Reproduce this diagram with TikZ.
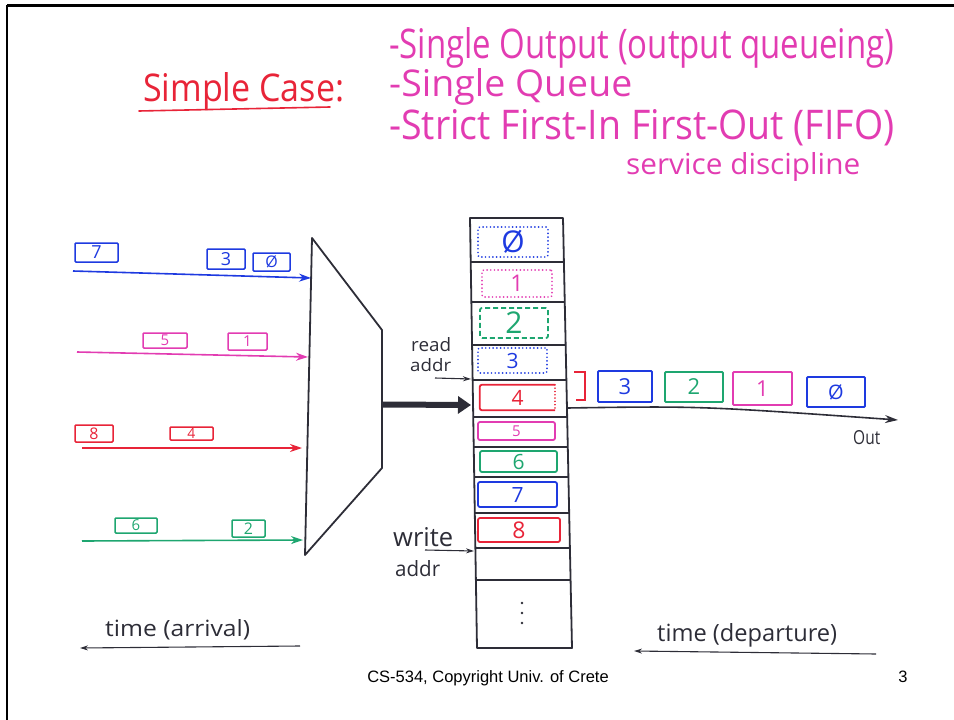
\documentclass[tikz,border=0pt]{standalone}
\usepackage{fontspec}
\setmainfont{Liberation Sans}
\newfontfamily\hand{Open Sans}
\usetikzlibrary{arrows.meta}

\definecolor{ink}{RGB}{45,45,55}
\definecolor{hred}{RGB}{232,36,56}
\definecolor{hpink}{RGB}{226,60,178}
\definecolor{hblue}{RGB}{30,58,224}
\definecolor{hgreen}{RGB}{30,166,112}

% handwritten label squeezed into a given width and height (px)
\newcommand\hw[3]{\resizebox{#1pt}{#2pt}{\hand #3}}
\newcommand\fs[1]{\hand\fontsize{#1}{#1}\selectfont}

\begin{document}
\begin{tikzpicture}[x=1pt,y=-1pt,
  lbl/.style={inner sep=0pt, anchor=base west},
  pkt/.style={draw, line width=1.5pt, rounded corners=1pt, inner sep=0pt},
  slot/.style={draw, line width=1.8pt, rounded corners=2pt, inner sep=0pt},
  dotbox/.style={slot, line cap=round, dash pattern=on 0.1pt off 3.6pt},
  dashbox/.style={slot, dash pattern=on 5pt off 3pt},
  wire/.style={line width=1.6pt, -{Stealth[length=12pt,width=8pt]}},
  thin/.style={ink, line width=1.1pt, -{Stealth[length=8pt,width=5pt]}},
  frame/.style={ink, line width=1.8pt, line join=round}]

\useasboundingbox (0,0) rectangle (954,720);

% slide border (top and left edges)
\draw[black, line width=3pt] (7,5) -- (954,5);
\draw[black, line width=2.5pt] (7,5) -- (7,720);

% ---------- heading ----------
\node[lbl, text=hred] (title) at (143,101) {\hw{201}{29}{Simple Case:}};
\coordinate (ulA) at (139,111);
\coordinate (ulB) at (330,107);
\draw[hred, line width=1.6pt, line cap=round] (ulA) -- (ulB);

\node[lbl, text=hpink] (p1) at (389,58)  {\hw{505}{31}{-Single Output (output queueing)}};
\node[lbl, text=hpink] (p2) at (389,96)  {\hw{243}{28}{-Single Queue}};
\node[lbl, text=hpink] (p3) at (389,139) {\hw{505}{30}{-Strict First-In First-Out (FIFO)}};
\node[lbl, text=hpink] (p4) at (626,174) {\hw{234}{22}{service discipline}};

% ---------- multiplexer ----------
\coordinate (mA) at (312,238);
\coordinate (mB) at (382,330);
\coordinate (mC) at (382,468);
\coordinate (mD) at (305,555);
\draw[frame] (mA) -- (mB) -- (mC) -- (mD) -- cycle;

% ---------- input links ----------
\coordinate (bS) at (73,271);  \coordinate (bE) at (311,278);
\coordinate (pS) at (77,352);  \coordinate (pE) at (308,357);
\coordinate (rS) at (82,448);  \coordinate (rE) at (302,448);
\coordinate (gS) at (82,541);  \coordinate (gE) at (303,540);
\draw[wire, hblue]  (bS) -- (bE);
\draw[wire, hpink]  (pS) -- (pE);
\draw[wire, hred]   (rS) -- (rE);
\draw[wire, hgreen] (gS) -- (gE);

% packets waiting on the inputs
\node[pkt, hblue, minimum width=43pt, minimum height=19pt, font=\fs{18}] (i7) at (96.5,252.5) {7};
\node[pkt, hblue, minimum width=38pt, minimum height=20pt, font=\fs{18}] (i3) at (226,259) {3};
\node[pkt, hblue, minimum width=37pt, minimum height=18pt, font=\fs{16}] (i0) at (271.5,262) {Ø};
\node[pkt, hpink, minimum width=44pt, minimum height=15pt, font=\fs{15}] (i5) at (165,340.5) {5};
\node[pkt, hpink, minimum width=39pt, minimum height=17pt, font=\fs{15}] (i1) at (247.5,341.5) {1};
\node[pkt, hred, minimum width=38pt, minimum height=17pt, font=\fs{16}] (i8) at (94,433.5) {8};
\node[pkt, hred, minimum width=43pt, minimum height=13pt, font=\fs{14}] (i4) at (191.5,433.5) {4};
\node[pkt, hgreen, minimum width=42pt, minimum height=15pt, font=\fs{15}] (i6) at (136,525.5) {6};
\node[pkt, hgreen, minimum width=33pt, minimum height=17pt, font=\fs{16}] (i2) at (248.5,528.5) {2};

% ---------- shared buffer ----------
\coordinate (cTL) at (470,218);
\coordinate (cTR) at (563,218);
\coordinate (cBR) at (572,648);
\coordinate (cBL) at (477,648);
\draw[frame] (cTL) -- (cTR) -- (cBR) -- (cBL) -- cycle;
\foreach \y in {262,302,345,380,417,447,477,513,548,580}
  \draw[ink, line width=1.5pt] ({470+7*(\y-218)/430},\y) -- ({563+9*(\y-218)/430},\y);

% cells: already sent (dotted), still queued (solid)
\node[dotbox, hblue, minimum width=70pt, minimum height=30pt, font=\fs{30}] (q0) at (513,242) {Ø};
\node[dotbox, hpink, minimum width=70pt, minimum height=27pt, font=\fs{23}] (q1) at (517,283.5) {1};
\node[dashbox, hgreen, minimum width=68pt, minimum height=30pt, font=\fs{30}] (q2) at (514,323) {2};
\node[dotbox, hblue, minimum width=69pt, minimum height=25pt, font=\fs{21}] (q3) at (512.5,360.5) {3};
\node[inner sep=0pt, minimum width=75pt, minimum height=25pt, text=hred, font=\fs{21}] (q4) at (517.5,397.5) {4};
\draw[hred, line width=1.8pt, rounded corners=2pt] (q4.north east) -- (q4.north west) -- (q4.south west) -- (q4.south east);
\draw[hred, line width=1.6pt, line cap=round, dash pattern=on 0.1pt off 3.2pt] (q4.north east) -- (q4.south east);
\node[slot, hpink, minimum width=77pt, minimum height=18pt, font=\fs{15}] (q5) at (516.5,431) {5};
\node[slot, hgreen, minimum width=77pt, minimum height=21pt, font=\fs{21}] (q6) at (518.5,461.5) {6};
\node[slot, hblue, minimum width=79pt, minimum height=25pt, font=\fs{21}] (q7) at (517.5,494.5) {7};
\node[slot, hred, minimum width=82pt, minimum height=24pt, font=\fs{23}] (q8) at (519,530) {8};
\foreach \y in {603,613,623} \fill[ink] (522,\y) circle (1.3pt);

% write into the buffer
\coordinate (muxOut) at (382,404.5);
\coordinate (bufIn) at (471,405);
\draw[ink, line width=6pt, -{Triangle[length=13pt,width=17pt]}] (muxOut) -- (bufIn);

% read / write pointers
\node[lbl, text=ink] (rd1) at (411,351) {\hw{40}{14}{read}};
\node[lbl, text=ink] (rd2) at (410,371) {\hw{41}{13}{addr}};
\coordinate (rdS) at (435,378);
\coordinate (rdE) at (471,379);
\draw[thin] (rdS) -- (rdE);
\node[lbl, text=ink] (wr1) at (393,546) {\hw{60}{19}{write}};
\node[lbl, text=ink] (wr2) at (395,576) {\hw{45}{16}{addr}};
\coordinate (wrS) at (425,550);
\coordinate (wrE) at (474,551);
\draw[thin] (wrS) -- (wrE);

% ---------- output link ----------
\coordinate (qOut) at (567,408);
\coordinate (oEnd) at (898,420);
\draw[ink, line width=1.6pt, -{Stealth[length=13pt,width=8pt]}] (qOut) .. controls (700,406) .. (oEnd);
\draw[hred, line width=1.6pt] (574,372) -- (585,372) -- (585,400) -- (576,400);
\node[pkt, hblue, line width=1.8pt, minimum width=54pt, minimum height=31pt, font=\fs{22}] (o3) at (625,386.5) {3};
\node[pkt, hgreen, line width=1.8pt, minimum width=58pt, minimum height=30pt, font=\fs{22}] (o2) at (694,387) {2};
\node[pkt, hpink, line width=1.8pt, minimum width=59pt, minimum height=33pt, font=\fs{22}] (o1) at (762.5,388.5) {1};
\node[pkt, hblue, line width=1.8pt, minimum width=58pt, minimum height=30pt, font=\fs{20}] (o0) at (836,392) {Ø};
\node[lbl, text=ink] (out) at (853,444) {\hw{27}{14}{Out}};

% ---------- time axes ----------
\node[lbl, text=ink] (ta) at (105,636) {\hw{145}{17}{time (arrival)}};
\coordinate (taS) at (300,646);
\coordinate (taE) at (80,648);
\draw[thin] (taS) -- (taE);
\node[lbl, text=ink] (td) at (657,641) {\hw{180}{18}{time (departure)}};
\coordinate (tdS) at (876,654);
\coordinate (tdE) at (634,651);
\draw[thin] (tdS) -- (tdE);

% ---------- footer ----------
\node[inner sep=0pt, anchor=base, font=\fontsize{16.5}{18}\selectfont] (foot) at (488,682) {CS-534, Copyright Univ. of Crete};
\node[inner sep=0pt, anchor=base, font=\fontsize{16.5}{18}\selectfont] (pg) at (903,682) {3};
\end{tikzpicture}
\end{document}
